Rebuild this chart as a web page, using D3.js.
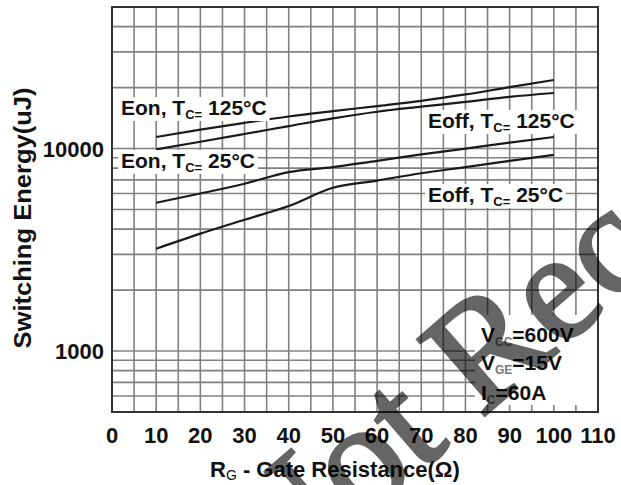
<!DOCTYPE html>
<html>
<head>
<meta charset="utf-8">
<script src="https://cdn.jsdelivr.net/npm/d3@7"></script>
<style>
  body { margin: 0; background: #fff; }
  text { font-family: "Liberation Sans", Arial, sans-serif; font-weight: bold; fill: #111; }
</style>
</head>
<body>
<div id="chart"></div>
<script>
//Chart data
var rg = [10, 20, 30, 40, 50, 60, 70, 80, 90, 100];
var eon125 = [11400, 12400, 13400, 14400, 15300, 16200, 17200, 18500, 20100, 21800];
var eoff125 = [9900, 10800, 11800, 12900, 14100, 15200, 16100, 17000, 18000, 18800];
var eon25 = [5400, 6000, 6700, 7650, 8100, 8700, 9350, 10000, 10700, 11400];
var eoff25 = [3200, 3800, 4450, 5200, 6400, 6950, 7550, 8100, 8700, 9300];
var xTicks = [0, 10, 20, 30, 40, 50, 60, 70, 80, 90, 100, 110];
var yTicks = [1000, 10000];
var yGrid = [600, 700, 800, 900, 1000, 2000, 3000, 4000, 5000, 6000, 7000, 8000, 9000, 10000, 20000, 30000, 40000];

var W = 621, H = 485;
var margin = {top: 7, right: 23, bottom: 73, left: 112};

//Set up scales
var x = d3.scaleLinear().domain([0, 110]).range([margin.left, W - margin.right]);
var y = d3.scaleLog().domain([500, 50000]).range([H - margin.bottom, margin.top]);

var svg = d3.select("#chart").append("svg")
    .attr("width", W)
    .attr("height", H);

//Grid
var grid = svg.append("g").attr("stroke", "#808080").attr("stroke-width", 1.6);
grid.selectAll(".vg")
  .data(d3.range(5, 110, 5))
  .enter().append("line")
    .attr("x1", function(d){ return x(d); })
    .attr("x2", function(d){ return x(d); })
    .attr("y1", y(500)).attr("y2", y(50000));
grid.selectAll(".hg")
  .data(yGrid)
  .enter().append("line")
    .attr("x1", x(0)).attr("x2", x(110))
    .attr("y1", function(d){ return y(d); })
    .attr("y2", function(d){ return y(d); });

//Curves
var series = [eon125, eoff125, eon25, eoff25];
var line = d3.line()
    .x(function(d, i){ return x(rg[i]); })
    .y(function(d){ return y(d); })
    .curve(d3.curveMonotoneX);
svg.selectAll(".curve")
  .data(series)
  .enter().append("path")
    .attr("class", "curve")
    .attr("d", line)
    .attr("fill", "none")
    .attr("stroke", "#1a1a1a")
    .attr("stroke-width", 2.2);

//Labels with white boxes
function label(px, py, a, sub, b, size) {
  var t = svg.append("text")
    .attr("x", px).attr("y", py)
    .attr("font-size", size);
  t.append("tspan").text(a);
  t.append("tspan").attr("font-size", size * 0.62).attr("dy", 4).text(sub);
  t.append("tspan").attr("dy", -4).text(b);
  var bb = t.node().getBBox();
  svg.insert("rect", "text")
    .attr("x", bb.x - 3).attr("y", bb.y + 1)
    .attr("width", bb.width + 6).attr("height", bb.height - 2)
    .attr("fill", "#fff");
  return t;
}
label(121, 115, "Eon, T", "C=", " 125°C", 21);
label(121, 168, "Eon, T", "C=", " 25°C", 21);
label(428, 128, "Eoff, T", "C=", " 125°C", 21);
label(428, 202, "Eoff, T", "C=", " 25°C", 21);

//Conditions box
svg.append("rect")
  .attr("x", 475).attr("y", 315)
  .attr("width", x(110) - 475).attr("height", 90)
  .attr("fill", "#fff");
var cond = [["V", "CC", "=600V", 342], ["V", "GE", "=15V", 370], ["I", "C", "=60A", 400]];
cond.forEach(function(c){
  var t = svg.append("text").attr("x", 481).attr("y", c[3]).attr("font-size", 21);
  t.append("tspan").text(c[0]);
  t.append("tspan").attr("font-size", 12).attr("dy", 4).attr("fill", "#777").text(c[1]);
  t.append("tspan").attr("dy", -4).text(c[2]);
});

//Frame
svg.append("rect")
  .attr("x", x(0)).attr("y", y(50000))
  .attr("width", x(110) - x(0)).attr("height", y(500) - y(50000))
  .attr("fill", "none")
  .attr("stroke", "#333")
  .attr("stroke-width", 2);

//Axes tick labels
svg.selectAll(".xt")
  .data(xTicks)
  .enter().append("text")
    .attr("x", function(d){ return x(d); })
    .attr("y", 443)
    .attr("text-anchor", "middle")
    .attr("font-size", 22)
    .text(function(d){ return d; });
svg.selectAll(".yt")
  .data(yTicks)
  .enter().append("text")
    .attr("x", 104)
    .attr("y", function(d){ return y(d) + 8; })
    .attr("text-anchor", "end")
    .attr("font-size", 22)
    .text(function(d){ return d; });

//Axis titles
var xt = svg.append("text")
  .attr("x", 210).attr("y", 477)
  .attr("font-size", 22);
xt.append("tspan").text("R");
xt.append("tspan").attr("font-size", 14).attr("font-weight", "normal").attr("dy", 3).text("G");
xt.append("tspan").attr("dy", -3).text(" - Gate Resistance(Ω)");

svg.append("text")
  .attr("transform", "translate(31,218) rotate(-90)")
  .attr("text-anchor", "middle")
  .attr("font-size", 24)
  .attr("textLength", 261)
  .attr("lengthAdjust", "spacingAndGlyphs")
  .text("Switching Energy(uJ)");

//Watermark
svg.append("text")
  .attr("transform", "translate(276,597) rotate(-41)")
  .attr("font-size", 155)
  .attr("opacity", 0.6)
  .style("font-family", "'Liberation Serif', 'Times New Roman', serif")
  .style("font-weight", "normal")
  .style("fill", "#000")
  .style("stroke", "#000")
  .style("stroke-width", 3)
  .text("Not Recommended");
</script>
</body>
</html>
